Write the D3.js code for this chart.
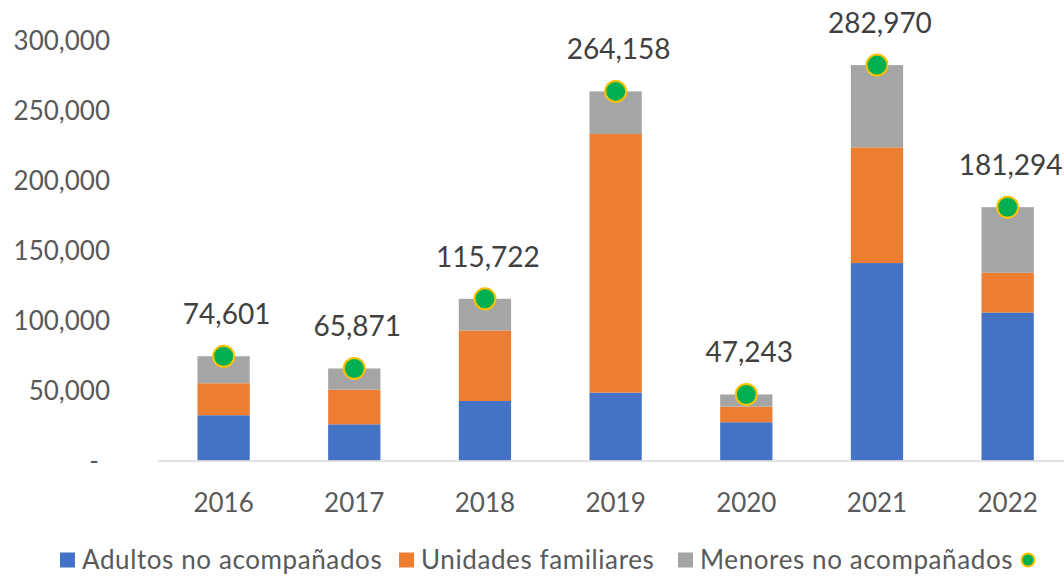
<!DOCTYPE html>
<html lang="es">
<head>
<meta charset="UTF-8">
<title>Detenciones por año</title>
<script src="https://cdn.jsdelivr.net/npm/d3@7/dist/d3.min.js"></script>
<style>
  html, body { margin: 0; padding: 0; background: #fff; }
  svg text { font-family: Lato, "Open Sans", sans-serif; fill: #595959; }
</style>
</head>
<body>
<svg id="chart" width="1064" height="577"></svg>
<script>
// datos
var years = ["2016", "2017", "2018", "2019", "2020", "2021", "2022"];
var adultos = [32400, 25900, 42600, 48600, 27400, 141300, 105900];
var familias = [22900, 24800, 50400, 185100, 11100, 82800, 28400];
var totales = [74601, 65871, 115722, 264158, 47243, 282970, 181294];
// menores = total - adultos - familias
var menores = totales.map(function(t, i) { return t - adultos[i] - familias[i]; });

var seriesNames = ["Adultos no acompañados", "Unidades familiares", "Menores no acompañados"];
var colors = ["#4472c4", "#ed7d31", "#a5a5a5"];
var yTicks = [0, 50000, 100000, 150000, 200000, 250000, 300000];

var svg = d3.select("#chart");

var x = d3.scaleBand()
    .domain(years)
    .range([158, 1073.25])
    .paddingInner(0.6)
    .paddingOuter(0.302);

var y = d3.scaleLinear()
    .domain([0, 300000])
    .range([460.5, 41.3]);

var fmt = d3.format(",");

var rows = years.map(function(yr, i) {
    return { year: yr, a: adultos[i], f: familias[i], m: menores[i] };
});
var stacked = d3.stack().keys(["a", "f", "m"])(rows);

// barras apiladas
svg.append("g").selectAll("g")
    .data(stacked)
    .join("g")
      .attr("fill", function(d, i) { return colors[i]; })
    .selectAll("rect")
    .data(function(d) { return d; })
    .join("rect")
      .attr("x", function(d) { return x(d.data.year); })
      .attr("width", x.bandwidth())
      .attr("y", function(d) { return y(d[1]); })
      .attr("height", function(d) { return y(d[0]) - y(d[1]); });

// eje x
svg.append("line")
    .attr("x1", 158).attr("x2", 1064)
    .attr("y1", y(0) + 0.5).attr("y2", y(0) + 0.5)
    .attr("stroke", "#d9d9d9").attr("stroke-width", 1.5);

svg.append("g").selectAll("text")
    .data(years)
    .join("text")
      .attr("x", function(d) { return x(d) + x.bandwidth() / 2; })
      .attr("y", 512)
      .attr("text-anchor", "middle")
      .attr("font-size", 26)
      .text(function(d) { return d; });

// eje y
svg.append("g").selectAll("text")
    .data(yTicks)
    .join("text")
      .attr("x", function(d) { return d === 0 ? 99 : 110; })
      .attr("y", function(d) { return y(d); })
      .attr("dy", "0.35em")
      .attr("text-anchor", "end")
      .attr("font-size", 26)
      .text(function(d) { return d === 0 ? "-" : fmt(d); });

// puntos de total
svg.append("g").selectAll("circle")
    .data(totales)
    .join("circle")
      .attr("cx", function(d, i) { return x(years[i]) + x.bandwidth() / 2; })
      .attr("cy", function(d) { return y(d); })
      .attr("r", 10.5)
      .attr("fill", "#00b050")
      .attr("stroke", "#ffc000")
      .attr("stroke-width", 2);

// etiquetas de total
svg.append("g").selectAll("text")
    .data(totales)
    .join("text")
      .attr("x", function(d, i) { return x(years[i]) + x.bandwidth() / 2 + 3; })
      .attr("y", function(d) { return y(d) - 32; })
      .attr("text-anchor", "middle")
      .attr("font-size", 28)
      .style("fill", "#404040")
      .text(function(d) { return fmt(d); });

// leyenda
var legX = [60, 399, 678];
var leg = svg.append("g").selectAll("g")
    .data(seriesNames)
    .join("g")
      .attr("transform", function(d, i) { return "translate(" + legX[i] + ",560)"; });
leg.append("rect")
    .attr("x", 0).attr("y", -7.5)
    .attr("width", 15).attr("height", 15)
    .attr("fill", function(d, i) { return colors[i]; });
leg.append("text")
    .attr("x", 22).attr("dy", "0.35em")
    .attr("font-size", 26)
    .attr("letter-spacing", 0.6)
    .text(function(d) { return d; });

svg.append("circle")
    .attr("cx", 1028).attr("cy", 560).attr("r", 6.5)
    .attr("fill", "#00b050")
    .attr("stroke", "#ffc000")
    .attr("stroke-width", 2);
</script>
</body>
</html>
